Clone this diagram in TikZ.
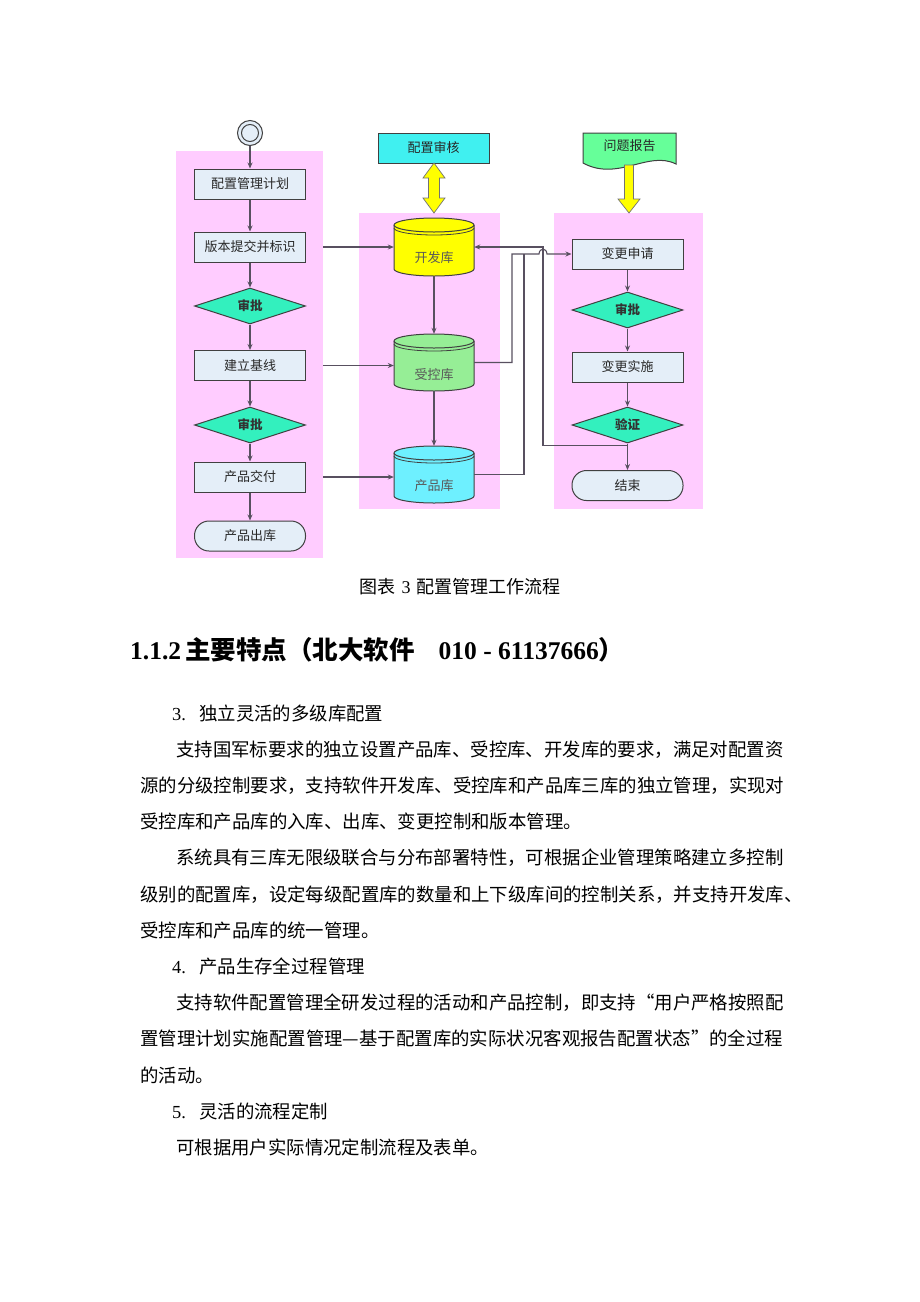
\documentclass[tikz,border=0pt]{standalone}
\usepackage{fontspec}
\setmainfont{Liberation Serif}
\newfontfamily\cjk{Noto Sans CJK SC}
\usetikzlibrary{shapes.geometric,arrows.meta,calc}
\definecolor{lanec}{RGB}{255,204,255}
\definecolor{boxfill}{RGB}{228,238,248}
\definecolor{boxline}{RGB}{64,64,64}
\definecolor{diac}{RGB}{51,240,190}
\definecolor{connc}{RGB}{88,80,96}
\definecolor{ylw}{RGB}{255,255,0}
\definecolor{cgreen}{RGB}{150,238,150}
\definecolor{ccyan}{RGB}{110,240,255}
\definecolor{auditc}{RGB}{64,240,240}
\definecolor{reportc}{RGB}{102,255,153}
\definecolor{txtc}{RGB}{40,40,40}
\newcommand\jline[2]{\hbox to #1{\jlA#2\relax}}
\def\jlA#1{#1\jlB}
\def\jlB#1{\ifx\relax#1\else\hfil#1\expandafter\jlB\fi}
\newcommand\drawcyl[4]{%
 \filldraw[fill=#4,draw=boxline,line width=1pt] (#1-40,#2+7) -- (#1-40,#3-7) arc[start angle=180,end angle=360,x radius=40pt,y radius=7pt] -- (#1+40,#2+7) arc[start angle=0,end angle=180,x radius=40pt,y radius=7pt] -- cycle;
 \draw[boxline,line width=1pt] (#1-40,#2+7) arc[start angle=180,end angle=360,x radius=40pt,y radius=7pt];
 \draw[boxline,line width=0.8pt] (#1-40,#2+10) arc[start angle=180,end angle=360,x radius=40pt,y radius=7pt];
}
\begin{document}
\begin{tikzpicture}[x=1pt,y=-1pt,
 lane/.style={rectangle,fill=lanec,draw=none,inner sep=0pt},
 box/.style={rectangle,draw=boxline,fill=boxfill,line width=1pt,minimum width=111pt,minimum height=30pt,inner sep=0pt,font=\cjk\fontsize{13}{15}\selectfont,text=txtc},
 term/.style={box,rounded corners=14.5pt},
 dec/.style={diamond,aspect=3,draw=boxline,fill=diac,line width=1pt,minimum width=111pt,minimum height=36pt,inner sep=0pt,font=\cjk\bfseries\fontsize{12.5}{14}\selectfont,text=black!80},
 startc/.style={circle,draw=boxline,fill=boxfill,line width=1pt,minimum size=25pt,inner sep=0pt},
 cylbox/.style={rectangle,draw=none,minimum width=80pt,inner sep=0pt},
 cyltext/.style={inner sep=0pt,font=\cjk\fontsize{13}{15}\selectfont,text=black!65},
 flow/.style={draw=connc,line width=1.1pt,-{Stealth[length=6pt,width=5pt]}},
 plain/.style={draw=connc,line width=1.1pt},
 yarrow/.style={fill=ylw,draw=black!55,line width=0.7pt},
 body/.style={anchor=base west,inner sep=0pt,font=\cjk\fontsize{18.4}{22}\selectfont,text=black},
 num/.style={anchor=base west,inner sep=0pt,font=\rmfamily\fontsize{18.4}{22}\selectfont,text=black}]
\fill[white] (0,0) rectangle (920,1302);
\useasboundingbox (0,0) rectangle (920,1302);
% lanes
\node[lane,minimum width=147pt,minimum height=407pt] (laneL) at (249.5,354.5) {};
\node[lane,minimum width=141pt,minimum height=296pt] (laneM) at (429.5,361) {};
\node[lane,minimum width=149pt,minimum height=296pt] (laneR) at (628.5,361) {};
% left column
\node[startc] (st) at (250,133) {};
\draw[boxline,line width=1pt] (st.center) circle[radius=8.5pt];
\node[box] (b1) at (250,184) {配置管理计划};
\node[box] (b2) at (250,247) {版本提交并标识};
\node[dec] (d1) at (250,306) {审批};
\node[box] (b3) at (250,365.5) {建立基线};
\node[dec] (d2) at (250,425) {审批};
\node[box] (b4) at (250,477) {产品交付};
\node[term] (t1) at (250,536) {产品出库};
% middle column
\node[box,fill=auditc] (sh) at (433.5,148) {配置审核};
\drawcyl{434}{218}{276}{ylw}
\node[cylbox,minimum height=58pt] (kfk) at (434,247) {};
\node[cyltext] (kfkt) at (434,258) {开发库};
\drawcyl{434}{334}{391}{cgreen}
\node[cylbox,minimum height=57pt] (skk) at (434,362.5) {};
\node[cyltext] (skkt) at (434,375) {受控库};
\drawcyl{434}{446}{503}{ccyan}
\node[cylbox,minimum height=57pt] (cpk) at (434,474.5) {};
\node[cyltext] (cpkt) at (434,486) {产品库};
\filldraw[yarrow] (434,163) -- (445,178) -- (439.5,178) -- (439.5,198) -- (445,198) -- (434,213) -- (423,198) -- (428.5,198) -- (428.5,178) -- (423,178) -- cycle;
% right column
\filldraw[fill=reportc,draw=boxline,line width=1pt] (583,133) -- (676,133) -- (676,164) .. controls (648,150) and (618,182) .. (583,163) -- cycle;
\node[inner sep=0pt,font=\cjk\fontsize{13}{15}\selectfont,text=txtc] (rep) at (629.5,146) {问题报告};
\filldraw[yarrow] (624.5,165) -- (633.5,165) -- (633.5,199) -- (640,199) -- (629,213) -- (618,199) -- (624.5,199) -- cycle;
\node[box] (bg) at (627.5,254) {变更申请};
\node[dec] (d3) at (627.5,310) {审批};
\node[box] (ss) at (627.5,367) {变更实施};
\node[dec] (yz) at (627.5,425) {验证};
\node[term] (js) at (627.5,485.5) {结束};
% flows
\draw[flow] (st) -- (b1);
\draw[flow] (b1) -- (b2);
\draw[flow] (b2) -- (d1);
\draw[flow] (d1) -- (b3);
\draw[flow] (b3) -- (d2);
\draw[flow] (d2) -- (b4);
\draw[flow] (b4) -- (t1);
\draw[flow] (kfk) -- (skk);
\draw[flow] (skk) -- (cpk);
\draw[flow] (bg) -- (d3);
\draw[flow] (d3) -- (ss);
\draw[flow] (ss) -- (yz);
\draw[flow] (yz) -- (js);
\draw[flow] (b2.east -| laneL.east) -- (b2.east -| kfk.west);
\draw[flow] (b3.east -| laneL.east) -- (b3.east -| skk.west);
\draw[flow] (b4.east -| laneL.east) -- (b4.east -| cpk.west);
\draw[plain] (cpk.east) -| (524,254);
\draw[flow] (yz.south) -- ++(0,2) -| (543,247) -- (kfk.east);
\draw[flow] (skk.east) -| (512,254) -- (539,254) .. controls (539.5,247.5) and (546.5,247.5) .. (547,254) -- (bg.west);
% caption and text
\node[anchor=base,inner sep=0pt,font=\fontsize{18}{20}\selectfont] (cap) at (460,593) {{\cjk 图表}\hspace{6pt}3\hspace{6pt}{\cjk 配置管理工作流程}};
\node[anchor=base west,inner sep=0pt,font=\bfseries\fontsize{25.5}{28}\selectfont] (hd) at (130,659) {1.1.2\hspace{4pt}{\cjk 主要特点（北大软件}\hspace{24pt}010 - 61137666{\cjk ）}};
\node[num] (n3) at (172,720) {3.};
\node[body] (l0) at (199,720) {独立灵活的多级库配置};
\node[body] (l1) at (176,756.2) {\jline{607pt}{支持国军标要求的独立设置产品库、受控库、开发库的要求，满足对配置资}};
\node[body] (l2) at (140,792.4) {\jline{643pt}{源的分级控制要求，支持软件开发库、受控库和产品库三库的独立管理，实现对}};
\node[body] (l3) at (140,828.6) {受控库和产品库的入库、出库、变更控制和版本管理。};
\node[body] (l4) at (176,864.8) {\jline{607pt}{系统具有三库无限级联合与分布部署特性，可根据企业管理策略建立多控制}};
\node[body] (l5) at (140,901) {\jline{643pt}{级别的配置库，设定每级配置库的数量和上下级库间的控制关系，并支持开发库、}};
\node[body] (l6) at (140,937.2) {受控库和产品库的统一管理。};
\node[num] (n4) at (172,973.4) {4.};
\node[body] (l7) at (199,973.4) {产品生存全过程管理};
\node[body] (l8) at (176,1009.6) {\jline{607pt}{支持软件配置管理全研发过程的活动和产品控制，即支持“用户严格按照配}};
\node[body] (l9) at (140,1045.8) {\jline{643pt}{置管理计划实施配置管理—基于配置库的实际状况客观报告配置状态”的全过程}};
\node[body] (l10) at (140,1082) {的活动。};
\node[num] (n5) at (172,1118.2) {5.};
\node[body] (l11) at (199,1118.2) {灵活的流程定制};
\node[body] (l12) at (176,1154.4) {可根据用户实际情况定制流程及表单。};
\end{tikzpicture}
\end{document}
